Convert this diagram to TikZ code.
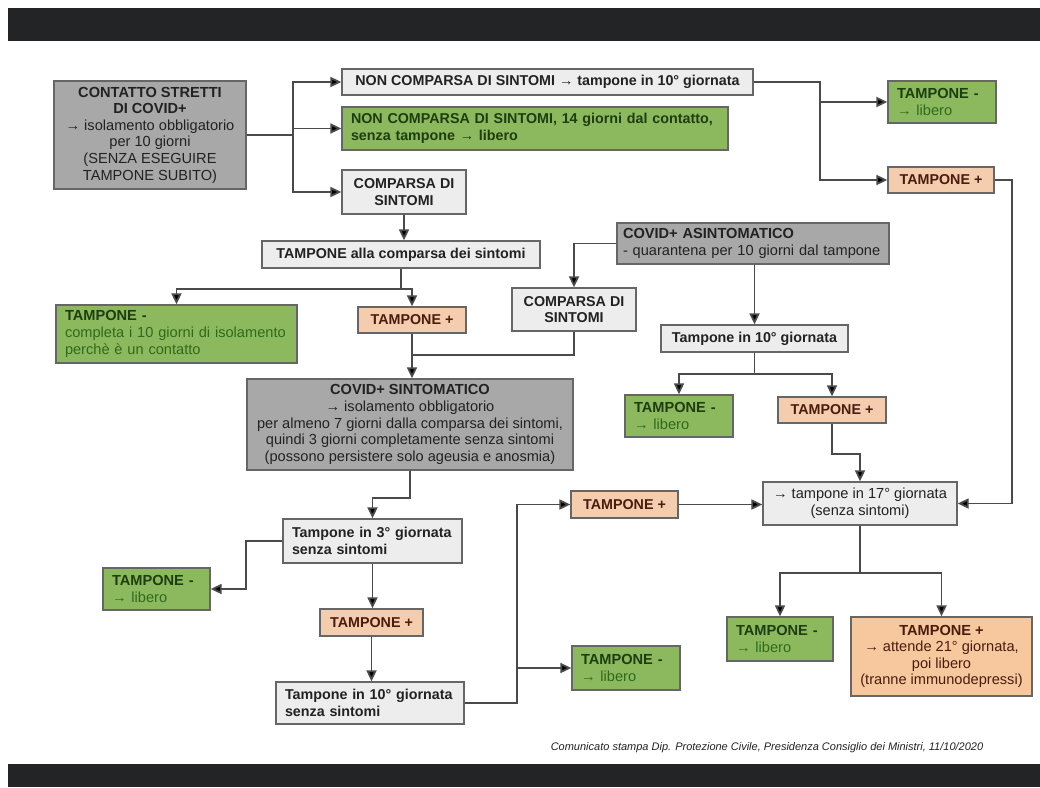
\documentclass[tikz,border=0pt]{standalone}
\usepackage{fontspec}
\setmainfont{Liberation Sans}
\usetikzlibrary{arrows.meta}
\definecolor{bar}{HTML}{232426}
\definecolor{dgrey}{HTML}{A8A8A8}
\definecolor{lgrey}{HTML}{EDEDED}
\definecolor{gfill}{HTML}{8CB95E}
\definecolor{pfill}{HTML}{F4CDAE}
\definecolor{ofill}{HTML}{F7C89E}
\definecolor{bord}{HTML}{666666}
\definecolor{conncol}{HTML}{4A4A4A}
\definecolor{gtxt}{HTML}{1E3D10}
\definecolor{gtxt2}{HTML}{2F6A1C}
\definecolor{ptxt}{HTML}{4A1C0E}
\definecolor{ktxt}{HTML}{222222}
\begin{document}
\begin{tikzpicture}[x=1pt,y=-1pt,
  box/.style={draw=bord, line width=1.3pt, inner xsep=9pt, inner ysep=0pt,
    font=\fontsize{14.6}{16.6}\selectfont, text=ktxt},
  bf/.style={font=\fontsize{14.3}{16.6}\selectfont\bfseries},
  cbox/.style={box, align=center},
  lbox/.style={box, align=left},
  dark/.style={fill=dgrey},
  light/.style={fill=lgrey},
  green/.style={fill=gfill, text=gtxt},
  peach/.style={fill=pfill, text=ptxt, bf},
  orng/.style={fill=ofill, text=ptxt},
  conn/.style={draw=conncol, line width=1.8pt},
  arr/.style={conn, -{Triangle[length=11pt,width=10pt,fill=black]}}
]
\useasboundingbox (0,0) rectangle (1040,787);
\fill[white] (0,0) rectangle (1040,787);
\fill[bar] (8,8) rectangle (1040,41);
\fill[bar] (8,764) rectangle (1040,787);

% nodes
\node[cbox,dark,minimum width=192pt,minimum height=108pt] (A) at (150,135)
 {\textbf{CONTATTO STRETTI}\\\textbf{DI COVID+}\\→ isolamento obbligatorio\\per 10 giorni\\(SENZA ESEGUIRE\\TAMPONE SUBITO)};
\node[cbox,light,bf,minimum width=411pt,minimum height=26pt] (B) at (547.5,82)
 {NON COMPARSA DI SINTOMI → tampone in 10° giornata};
\node[lbox,green,bf,text width=368pt,minimum height=43pt] (C) at (535,128.5)
 {NON COMPARSA DI SINTOMI, 14 giorni dal contatto,\\senza tampone → libero};
\node[cbox,light,bf,minimum width=124pt,minimum height=44pt] (D) at (404,192)
 {COMPARSA DI\\SINTOMI};
\node[lbox,green,text width=90pt,minimum height=42pt] (E) at (942,102)
 {\textbf{TAMPONE -}\\\textcolor{gtxt2}{→ libero}};
\node[cbox,peach,minimum width=106pt,minimum height=26pt] (F) at (941,180) {TAMPONE +};
\node[cbox,light,bf,minimum width=278pt,minimum height=27pt] (G) at (401,254.5)
 {TAMPONE alla comparsa dei sintomi};
\node[lbox,green,text width=223pt,minimum height=58pt] (H) at (176.5,334)
 {\textbf{TAMPONE -}\\\textcolor{gtxt2}{completa i 10 giorni di isolamento}\\\textcolor{gtxt2}{perchè è un contatto}};
\node[cbox,peach,minimum width=108pt,minimum height=26pt] (I) at (412,320) {TAMPONE +};
\node[cbox,dark,minimum width=326pt,minimum height=91pt] (J) at (410,424.5)
 {\textbf{COVID+ SINTOMATICO}\\→ isolamento obbligatorio\\per almeno 7 giorni dalla comparsa dei sintomi,\\quindi 3 giorni completamente senza sintomi\\(possono persistere solo ageusia e anosmia)};
\node[cbox,light,bf,minimum width=124pt,minimum height=43pt] (K) at (574,309.5)
 {COMPARSA DI\\SINTOMI};
\node[lbox,dark,inner xsep=6pt,text width=260pt,minimum height=41pt] (L) at (753,243.5)
 {\textbf{COVID+ ASINTOMATICO}\\- quarantena per 10 giorni dal tampone};
\node[cbox,light,bf,minimum width=187pt,minimum height=27pt] (M) at (754.5,338.5)
 {Tampone in 10° giornata};
\node[lbox,green,text width=90pt,minimum height=42pt] (N) at (679,416)
 {\textbf{TAMPONE -}\\\textcolor{gtxt2}{→ libero}};
\node[cbox,peach,minimum width=108pt,minimum height=26pt] (O) at (832,410) {TAMPONE +};
\node[cbox,light,minimum width=194pt,minimum height=43pt] (P) at (860,503.5)
 {→ tampone in 17° giornata\\(senza sintomi)};
\node[lbox,light,bf,text width=161pt,minimum height=44pt] (Q) at (372.5,541)
 {Tampone in 3° giornata\\senza sintomi};
\node[lbox,green,text width=89pt,minimum height=42pt] (R) at (156.5,589)
 {\textbf{TAMPONE -}\\\textcolor{gtxt2}{→ libero}};
\node[cbox,peach,minimum width=103pt,minimum height=27pt] (S) at (371.5,622.5) {TAMPONE +};
\node[lbox,light,bf,text width=170pt,minimum height=42pt] (T) at (370,703)
 {Tampone in 10° giornata\\senza sintomi};
\node[cbox,peach,minimum width=107pt,minimum height=27pt] (U) at (624.5,504.5) {TAMPONE +};
\node[lbox,green,text width=90pt,minimum height=44pt] (V) at (626,668)
 {\textbf{TAMPONE -}\\\textcolor{gtxt2}{→ libero}};
\node[lbox,green,text width=88pt,minimum height=44pt] (W) at (780,639)
 {\textbf{TAMPONE -}\\\textcolor{gtxt2}{→ libero}};
\node[cbox,orng,minimum width=181pt,minimum height=79pt] (X) at (941.5,656.5)
 {\textbf{TAMPONE +}\\→ attende 21° giornata,\\poi libero\\(tranne immunodepressi)};

\node[font=\itshape\fontsize{11}{13}\selectfont, text=ktxt] (foot) at (767,748)
 {Comunicato stampa Dip. Protezione Civile, Presidenza Consiglio dei Ministri, 11/10/2020};

% junction coordinates
\coordinate (tA) at (293,135);
\coordinate (tB) at (820,82);
\coordinate (tF) at (1012,180);
\coordinate (jJ) at (411,355);
\coordinate (tQ) at (246,541);
\coordinate (tT) at (517,703);

% connectors
\draw[arr] (A.east) -- (tA) |- (B.west);
\draw[arr] (tA) |- (C.west);
\draw[arr] (tA) |- (D.west);
\draw[arr] (B.east) -- (tB) |- (E.west);
\draw[arr] (tB) |- (F.west);
\draw[arr] (F.east) -- (tF) |- (P.east);
\draw[arr] (D.south) -- (D.south |- G.north);
\draw[arr] (G.south) -- ++(0,20) -| (H.north);
\draw[arr] (G.south) -- ++(0,20) -| (I.north);
\draw[arr] (I.south) -- (I.south |- J.north);
\draw[conn] (K.south) |- (jJ);
\draw[arr] (L.west) -| (K.north);
\draw[arr] (M.north |- L.south) -- (M.north);
\draw[arr] (M.south) -- ++(0,21) -| (N.north);
\draw[arr] (M.south) -- ++(0,21) -| (O.north);
\draw[arr] (O.south) -- ++(0,30) -| (P.north);
\draw[arr] (J.south) -- ++(0,27) -| (Q.north);
\draw[arr] (Q.west) -- (tQ) |- (R.east);
\draw[arr] (Q.south) -- (Q.south |- S.north);
\draw[arr] (S.south) -- (S.south |- T.north);
\draw[arr] (T.east) -- (tT) |- (U.west);
\draw[arr] (tT) |- (V.west);
\draw[arr] (U.east) -- (U.east -| P.west);
\draw[arr] (P.south) -- ++(0,47) -| (W.north);
\draw[arr] (P.south) -- ++(0,47) -| (X.north);
\end{tikzpicture}
\end{document}
